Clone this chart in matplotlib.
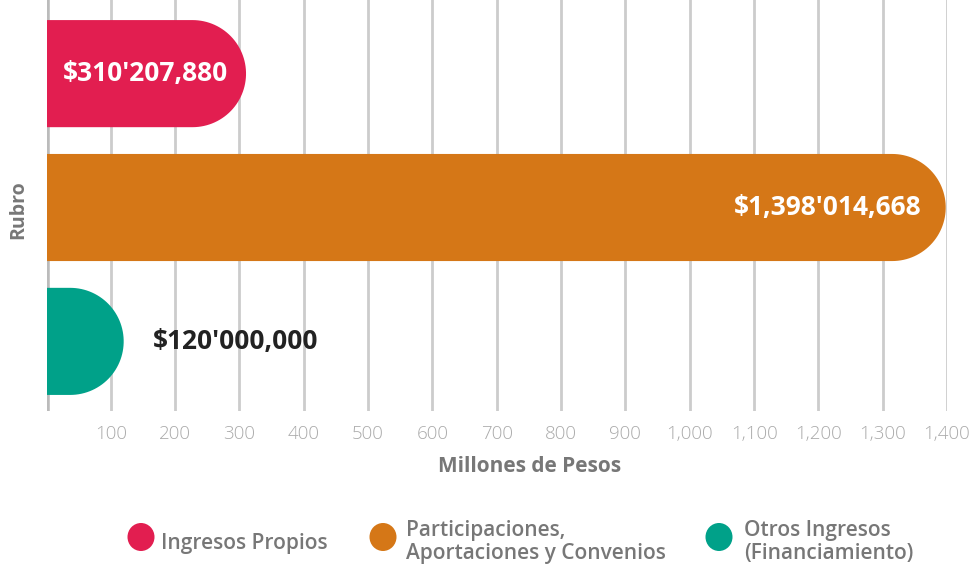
import numpy as np
import matplotlib
matplotlib.use("Agg")
import matplotlib.pyplot as plt
from matplotlib.path import Path
from matplotlib.patches import PathPatch, Ellipse

# Data
categories = ["Ingresos Propios", "Participaciones,\nAportaciones y Convenios",
              "Otros Ingresos\n(Financiamiento)"]
values_mdp = [310.20788, 1398.014668, 120.0]
value_labels = ["$310'207,880", "$1,398'014,668", "$120'000,000"]
colors = ["#E21E50", "#D57717", "#00A189"]
xticks = [100, 200, 300, 400, 500, 600, 700, 800, 900, 1000, 1100, 1200, 1300, 1400]
xticklabels = ["100", "200", "300", "400", "500", "600", "700", "800", "900",
               "1,000", "1,100", "1,200", "1,300", "1,400"]

plt.rcParams['font.family'] = ['Open Sans', 'DejaVu Sans']

W, H = 975, 568
fig = plt.figure(figsize=(W / 100, H / 100), dpi=100)
ax = fig.add_axes([46.5 / W, 1 - 411 / H, (947 - 46.5) / W, 411 / H])

ax.set_xlim(0, 1400)
ax.set_ylim(2.52, -0.55)

bar_h = 0.8
# radius of the round cap in x data units (keep a true half circle on screen)
px_per_x = (947 - 46.5) / 1400
px_per_y = 411 / (2.52 + 0.55)
rx = (bar_h / 2) * px_per_y / px_per_x

for i, (v, c) in enumerate(zip(values_mdp, colors)):
    top, bot = i - bar_h / 2, i + bar_h / 2
    xs = max(v - rx, 0)
    t = np.linspace(-np.pi / 2, np.pi / 2, 60)
    arc = [(xs + rx * np.cos(a), i + (bar_h / 2) * np.sin(a)) for a in t]
    verts = [(0, top)] + [(xs, top)] + arc + [(xs, bot), (0, bot), (0, top)]
    codes = [Path.MOVETO] + [Path.LINETO] * (len(verts) - 2) + [Path.CLOSEPOLY]
    ax.add_patch(PathPatch(Path(verts, codes), facecolor=c, edgecolor='none',
                           zorder=3))

# value labels
lbl_size = 19
ax.text(25, 0, value_labels[0], color='white', fontsize=lbl_size,
        fontweight='bold', va='center', ha='left', zorder=4)
ax.text(values_mdp[1] - 38, 1, value_labels[1], color='white', fontsize=lbl_size,
        fontweight='bold', va='center', ha='right', zorder=4)
ax.text(values_mdp[2] + 46, 2, value_labels[2], color='#222222', fontsize=lbl_size,
        fontweight='bold', va='center', ha='left', zorder=4)

# grid and axes
for x in xticks:
    ax.axvline(x, color='#cccccc', lw=2, zorder=1)
ax.axvline(0, color='#bbbbbb', lw=4, zorder=2)
for s in ax.spines.values():
    s.set_visible(False)
ax.set_yticks([])
ax.set_xticks(xticks)
ax.set_xticklabels(xticklabels, fontsize=13.5, color='#aaaaaa', fontweight='light')
ax.tick_params(axis='x', length=0, pad=10)
fig.text(530 / W, 1 - 466 / H, "Millones de Pesos", fontsize=15, color='#777777',
         fontweight='bold', ha='center', va='center')
fig.text(18 / W, 1 - 210 / H, "Rubro", rotation=90, fontsize=14,
         color='#777777', fontweight='bold', ha='center', va='center')

# legend
lg = fig.add_axes([0, 0, 1, 1], zorder=-1)
lg.set_xlim(0, W)
lg.set_ylim(H, 0)
lg.axis('off')
circle_x = [141, 383, 719]
text_x = [161, 406, 744]
text_y = [543, 542, 542]
for cx, tx, ty, lab, c in zip(circle_x, text_x, text_y, categories, colors):
    lg.add_patch(Ellipse((cx, 537), 27, 28, facecolor=c, edgecolor='none'))
    lg.text(tx, ty, lab, fontsize=15, color='#777777', fontweight='semibold',
            va='center', ha='left', linespacing=1.15)

fig.savefig("out.png", dpi=100)
